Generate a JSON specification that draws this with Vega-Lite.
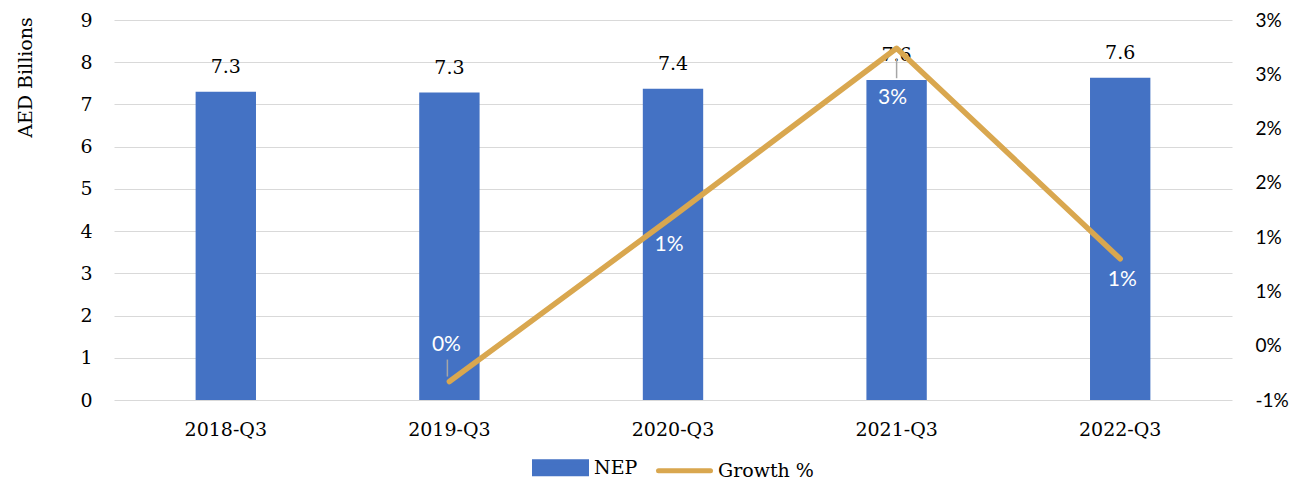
{
  "$schema": "https://vega.github.io/schema/vega-lite/v6.json",
  "width": 1118,
  "height": 380,
  "autosize": "none",
  "padding": {"left": 114, "top": 20, "right": 79, "bottom": 81},
  "background": "white",
  "config": {
    "view": {"stroke": null},
    "axis": {"domain": false, "ticks": false}
  },
  "data": {
    "values": [
      {"quarter": "2018-Q3", "nep": 7.30, "growth": null},
      {"quarter": "2019-Q3", "nep": 7.28, "growth": -0.0033},
      {"quarter": "2020-Q3", "nep": 7.37, "growth": 0.0119},
      {"quarter": "2021-Q3", "nep": 7.58, "growth": 0.0274},
      {"quarter": "2022-Q3", "nep": 7.63, "growth": 0.0080}
    ]
  },
  "encoding": {
    "x": {
      "field": "quarter",
      "type": "nominal",
      "sort": null,
      "scale": {"paddingInner": 0.73, "paddingOuter": 0.365},
      "axis": {
        "title": null,
        "labelAngle": 0,
        "labelFont": "DejaVu Serif",
        "labelFontSize": 19,
        "labelColor": "#000000",
        "labelPadding": 20
      }
    }
  },
  "layer": [
    {
      "encoding": {
        "y": {
          "field": "nep",
          "type": "quantitative",
          "scale": {"domain": [0, 9], "nice": false},
          "axis": {
            "orient": "left",
            "values": [0, 1, 2, 3, 4, 5, 6, 7, 8, 9],
            "grid": true,
            "gridColor": "#D9D9D9",
            "gridWidth": 1,
            "labelFont": "DejaVu Serif",
            "labelFontSize": 19,
            "labelColor": "#000000",
            "labelPadding": 22,
            "title": "AED Billions",
            "titleFont": "DejaVu Serif",
            "titleFontSize": 19,
            "titleFontWeight": "normal",
            "titleColor": "#000000",
            "titleX": -89,
            "titleY": 57,
            "titleAlign": "center",
            "titleBaseline": "middle",
            "titleAngle": 270
          }
        }
      },
      "layer": [
        {
          "mark": {"type": "bar"},
          "encoding": {
            "color": {
              "datum": "NEP",
              "type": "nominal",
              "scale": {"domain": ["NEP", "Growth %"], "range": ["#4472C4", "#D9A74F"]},
              "legend": {
                "orient": "none",
                "legendX": 418,
                "legendY": 419,
                "direction": "horizontal",
                "title": null,
                "labelFont": "DejaVu Serif",
                "labelFontSize": 19,
                "labelColor": "#000000",
                "labelOffset": 5,
                "columnPadding": 10,
                "symbolSize": 2704,
                "encode": {
                  "symbols": {
                    "update": {
                      "shape": {"signal": "datum.value === 'NEP' ? 'M-1,-0.23H1V0.23H-1Z' : 'M-1,0H1'"},
                      "fill": {"signal": "datum.value === 'NEP' ? '#4472C4' : 'transparent'"},
                      "stroke": {"signal": "datum.value === 'NEP' ? 'transparent' : '#D9A74F'"},
                      "strokeWidth": {"value": 5},
                      "strokeCap": {"value": "round"},
                      "opacity": {"value": 1}
                    }
                  }
                }
              }
            }
          }
        },
        {
          "mark": {"type": "text", "dy": -25, "font": "DejaVu Serif", "fontSize": 19, "color": "#000000", "baseline": "middle"},
          "encoding": {"text": {"field": "nep", "type": "quantitative", "format": ".1f"}}
        }
      ]
    },
    {
      "transform": [{"filter": "datum.growth != null"}],
      "encoding": {
        "y": {
          "field": "growth",
          "type": "quantitative",
          "scale": {"domain": [-0.005, 0.03], "nice": false, "zero": false},
          "axis": {
            "orient": "right",
            "title": null,
            "grid": false,
            "values": [-0.005, 0, 0.005, 0.01, 0.015, 0.02, 0.025, 0.03],
            "labelExpr": "datum.value < 0 ? '-1%' : round(datum.value * 100 + 0.01) + '%'",
            "labelFont": "Lato",
            "labelFontSize": 19,
            "labelColor": "#000000",
            "labelPadding": 23,
            "labelAlign": "left"
          }
        }
      },
      "layer": [
        {
          "mark": {"type": "line", "strokeWidth": 5.5, "strokeCap": "round", "strokeJoin": "round"},
          "encoding": {"color": {"datum": "Growth %", "type": "nominal"}}
        },
        {
          "transform": [{"filter": "datum.quarter === '2019-Q3'"}],
          "mark": {"type": "rule", "color": "#A6A6A6", "strokeWidth": 1.5, "yOffset": -5, "y2Offset": -22, "xOffset": -2},
          "encoding": {"y2": {"field": "growth"}}
        },
        {
          "transform": [{"filter": "datum.quarter === '2021-Q3'"}],
          "mark": {"type": "rule", "color": "#A6A6A6", "strokeWidth": 1.5, "yOffset": 10, "y2Offset": 30, "xOffset": 0},
          "encoding": {"y2": {"field": "growth"}}
        },
        {
          "transform": [{"filter": "datum.quarter === '2019-Q3'"}],
          "mark": {"type": "text", "dy": -37, "dx": -3, "font": "Lato", "fontSize": 21, "color": "#FFFFFF", "baseline": "middle"},
          "encoding": {"text": {"field": "growth", "type": "quantitative", "format": ".0%"}}
        },
        {
          "transform": [{"filter": "datum.quarter === '2020-Q3'"}],
          "mark": {"type": "text", "dy": 28, "dx": -4, "font": "Lato", "fontSize": 21, "color": "#FFFFFF", "baseline": "middle"},
          "encoding": {"text": {"field": "growth", "type": "quantitative", "format": ".0%"}}
        },
        {
          "transform": [{"filter": "datum.quarter === '2021-Q3'"}],
          "mark": {"type": "text", "dy": 50, "dx": -4, "font": "Lato", "fontSize": 21, "color": "#FFFFFF", "baseline": "middle"},
          "encoding": {"text": {"field": "growth", "type": "quantitative", "format": ".0%"}}
        },
        {
          "transform": [{"filter": "datum.quarter === '2022-Q3'"}],
          "mark": {"type": "text", "dy": 21, "dx": 2, "font": "Lato", "fontSize": 21, "color": "#FFFFFF", "baseline": "middle"},
          "encoding": {"text": {"field": "growth", "type": "quantitative", "format": ".0%"}}
        }
      ]
    }
  ],
  "resolve": {"scale": {"y": "independent"}}
}
